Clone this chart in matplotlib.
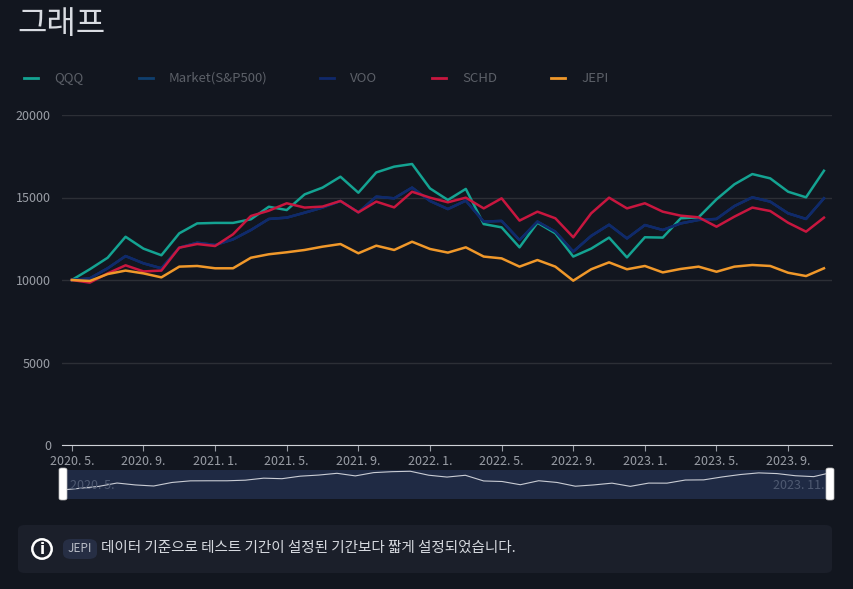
import matplotlib
matplotlib.use("Agg")
import matplotlib.pyplot as plt
from matplotlib import font_manager
from matplotlib.patches import FancyBboxPatch, Circle
import numpy as np

cjk = sorted({f.name for f in font_manager.fontManager.ttflist
              if "CJK" in f.name and "Sans" in f.name})
kr = [n for n in cjk if n.endswith("KR")] or cjk
plt.rcParams["font.family"] = (kr[:1] if kr else []) + ["DejaVu Sans"]

# monthly, 2020.5 .. 2023.11
months = [f"{2020 + (4 + i) // 12}. {(4 + i) % 12 + 1}." for i in range(43)]

qqq = [10000, 10650, 11350, 12620, 11900, 11500, 12830, 13430, 13460, 13460, 13680,
       14440, 14240, 15190, 15600, 16260, 15290, 16520, 16870, 17030, 15550, 14850,
       15520, 13390, 13190, 11980, 13470, 12830, 11420, 11900, 12570, 11370, 12590,
       12570, 13740, 13800, 14890, 15800, 16420, 16160, 15350, 15010, 16620]
voo = [10000, 10100, 10710, 11450, 11010, 10710, 11960, 12260, 12120, 12460, 13030,
       13700, 13780, 14080, 14390, 14790, 14100, 15050, 14950, 15600, 14790, 14300,
       14810, 13540, 13580, 12420, 13540, 12930, 11720, 12670, 13350, 12520, 13330,
       13030, 13430, 13640, 13700, 14480, 15010, 14750, 14040, 13700, 14950]
market = voo
schd = [10000, 9840, 10400, 10890, 10520, 10570, 11960, 12180, 12060, 12770, 13880,
        14200, 14650, 14390, 14450, 14790, 14100, 14750, 14400, 15350, 14990, 14710,
        14990, 14340, 14950, 13600, 14140, 13740, 12590, 14040, 14990, 14340, 14650,
        14140, 13900, 13800, 13230, 13840, 14390, 14180, 13470, 12930, 13780]
jepi = [10000, 9940, 10360, 10570, 10400, 10160, 10810, 10850, 10710, 10710, 11350,
        11560, 11680, 11820, 12020, 12180, 11620, 12080, 11820, 12320, 11880, 11660,
        11980, 11420, 11310, 10810, 11210, 10810, 9960, 10650, 11070, 10650, 10850,
        10460, 10670, 10810, 10500, 10810, 10910, 10850, 10440, 10240, 10710]

names = ["QQQ", "Market(S&P500)", "VOO", "SCHD", "JEPI"]
series = [qqq, market, voo, schd, jepi]
colors = ["#14a392", "#0f3f6e", "#10296b", "#c8163f", "#f0982a"]

BG = "#12161f"
W, H = 854, 589
fig = plt.figure(figsize=(W / 100, H / 100), dpi=100, facecolor=BG)

def fr(x0, y0, x1, y1):
    return [x0 / W, 1 - y1 / H, (x1 - x0) / W, (y1 - y0) / H]

x = np.arange(len(months))
ax = fig.add_axes(fr(62, 115, 832, 445))
ax.set_facecolor(BG)
for s, c in zip(series, colors):
    ax.plot(x, s, color=c, lw=1.8)
ax.set_xlim(-0.55, 42.45)
ax.set_ylim(0, 20000)
ax.set_yticks([0, 5000, 10000, 15000, 20000])
ax.grid(axis="y", color="#2c2f36", lw=1)
ax.set_axisbelow(True)
ax.set_xticks(x[::4])
ax.set_xticklabels(months[::4])
ax.tick_params(colors="#9a9ea6", labelsize=9, length=4)
ax.tick_params(axis="y", length=0, pad=8)
for sp in ["top", "right", "left"]:
    ax.spines[sp].set_visible(False)
ax.spines["bottom"].set_color("#cfd2d8")

# title
fig.text(17 / W, 1 - 24 / H, "그래프", color="#d9dce2", fontsize=23, va="center")

# legend
lx = [24, 139, 320, 432, 551]
for name, c, px in zip(names, colors, lx):
    fig.add_artist(plt.Line2D([px / W, (px + 14) / W], [1 - 78 / H] * 2, color=c, lw=2))
    fig.text((px + 30) / W, 1 - 78 / H, name, color="#5c6068", fontsize=9.5, va="center")

# data zoom slider
sax = fig.add_axes(fr(62, 470, 832, 498))
sax.set_facecolor(BG)
sax.fill_between(x, 7000, 17500, color="#1f2a44", zorder=0)
sax.plot(x, qqq, color="#c9ccd4", lw=0.8)
sax.set_xlim(0, 42)
sax.set_ylim(7000, 17500)
sax.set_xticks([])
sax.set_yticks([])
for sp in sax.spines.values():
    sp.set_visible(False)
sax.text(0.01, 0.45, months[0], transform=sax.transAxes, color="#4f5a72", fontsize=9, va="center")
sax.text(0.99, 0.45, months[-1], transform=sax.transAxes, color="#4f5a72", fontsize=9, va="center", ha="right")
for hx in [63, 830]:
    fig.add_artist(FancyBboxPatch(((hx - 4) / W, 1 - 500 / H), 8 / W, 32 / H,
                                  boxstyle="round,pad=0,rounding_size=0.003",
                                  fc="white", ec="#bbbbbb", lw=0.5))

# info box
fig.add_artist(FancyBboxPatch((18 / W, 1 - 573 / H), 814 / W, 48 / H,
                              boxstyle="round,pad=0,rounding_size=0.008",
                              fc="#1b1f2a", ec="none"))
iax = fig.add_axes(fr(31, 538, 53, 560))
iax.set_zorder(5)
iax.patch.set_visible(False)
iax.set_xlim(-1, 1)
iax.set_ylim(-1, 1)
iax.axis("off")
iax.add_patch(Circle((0, 0), 0.88, fc="none", ec="white", lw=1.8))
iax.text(0, -0.05, "i", color="white", fontsize=11, ha="center", va="center",
         fontweight="bold", family="DejaVu Sans")
fig.add_artist(FancyBboxPatch((63 / W, 1 - 559 / H), 34 / W, 20 / H,
                              boxstyle="round,pad=0,rounding_size=0.01",
                              fc="#262e44", ec="none"))
fig.text(80 / W, 1 - 548 / H, "JEPI", color="#b8bcc6", fontsize=8.5, va="center", ha="center")
fig.text(101 / W, 1 - 548 / H, "데이터 기준으로 테스트 기간이 설정된 기간보다 짧게 설정되었습니다.",
         color="#d6d9df", fontsize=10.5, va="center")

fig.savefig("out.png", dpi=100, facecolor=BG)
